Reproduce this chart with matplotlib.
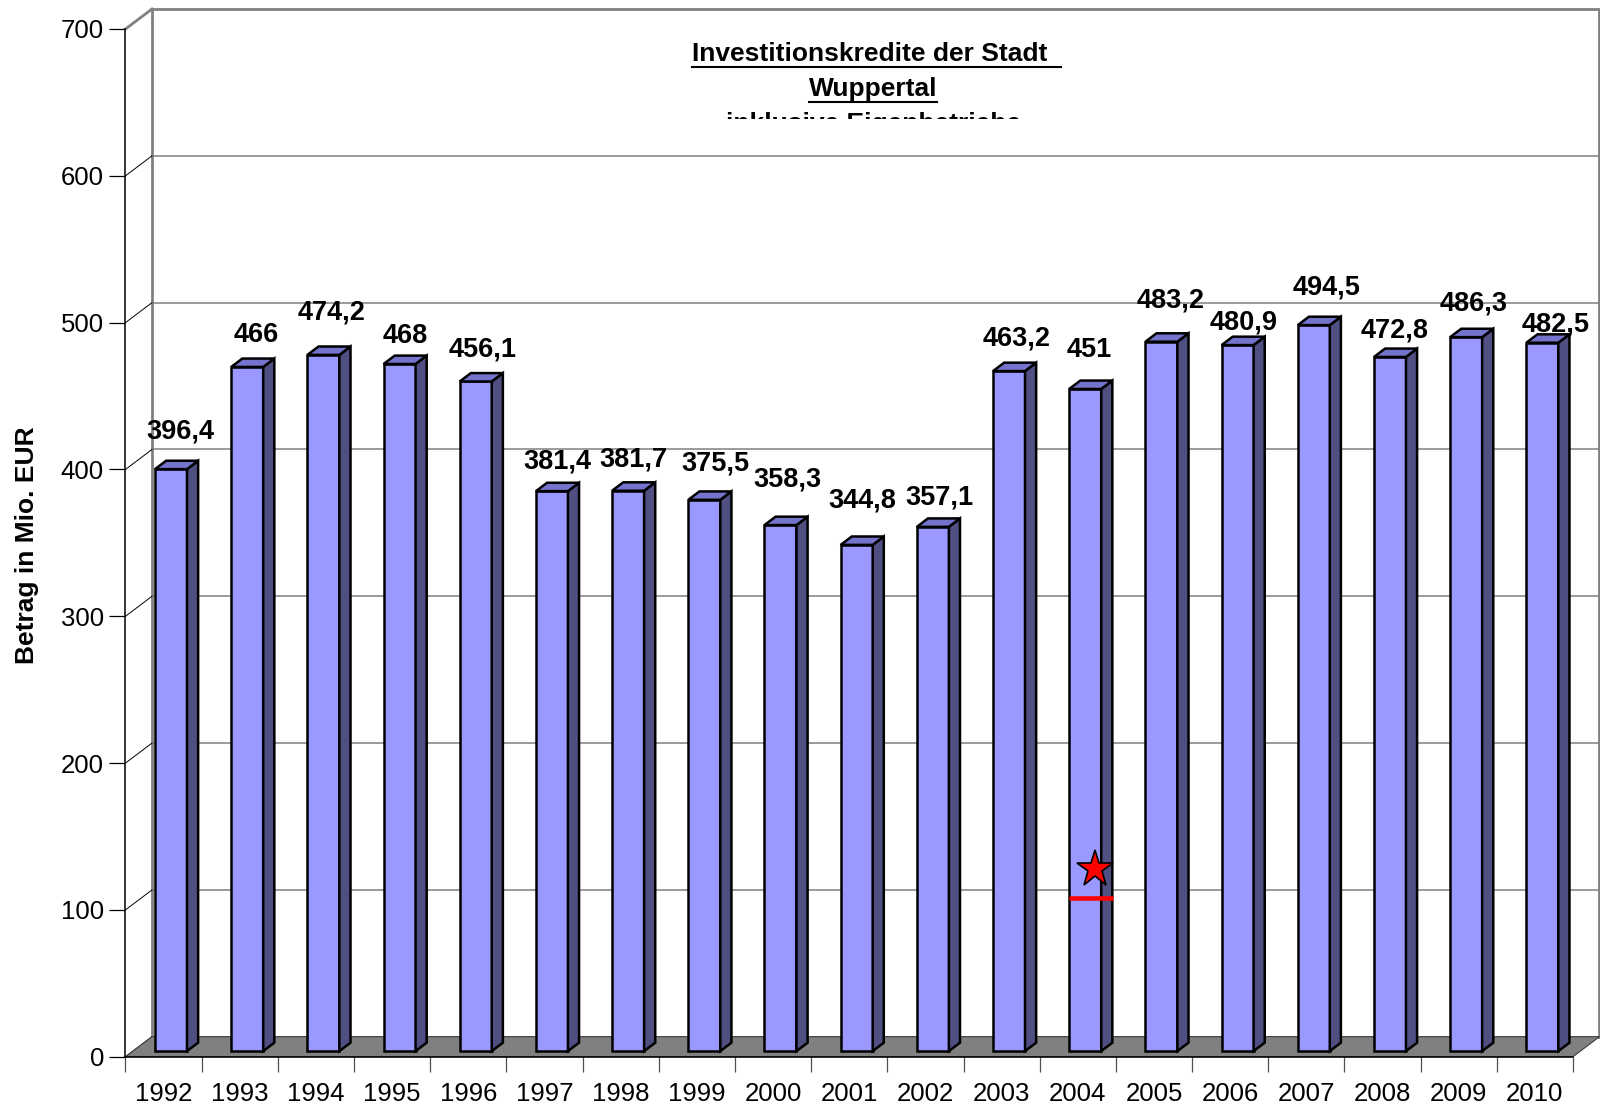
import matplotlib
matplotlib.use('Agg')
import matplotlib.pyplot as plt
from matplotlib.patches import Polygon, Rectangle
from matplotlib.lines import Line2D
from matplotlib.transforms import Bbox

plt.rcParams['font.family'] = ['Liberation Sans', 'DejaVu Sans']

# Daten: Investitionskredite in Mio. EUR
years = ['1992', '1993', '1994', '1995', '1996', '1997', '1998', '1999', '2000', '2001',
         '2002', '2003', '2004', '2005', '2006', '2007', '2008', '2009', '2010']
values = [396.4, 466, 474.2, 468, 456.1, 381.4, 381.7, 375.5, 358.3, 344.8,
          357.1, 463.2, 451, 483.2, 480.9, 494.5, 472.8, 486.3, 482.5]
yticks = [0, 100, 200, 300, 400, 500, 600, 700]
title_lines = ['Investitionskredite der Stadt ', 'Wuppertal', 'inklusive Eigenbetriebe']

# Excel-Beschriftungen wurden von Hand verschoben (Pixel, rechts / oben)
label_shift = [(9, 38), (9, 32), (8, 42), (6, 28), (7, 32), (5, 30), (5, 31), (11, 36),
               (7, 46), (6, 44), (7, 29), (8, 33), (4, 39), (9, 41), (6, 23), (13, 38),
               (5, 26), (7, 34), (13, 18)]

# Markierung bei 2004 (Stern + rote Linie)
star_xy = (12.73, 128)
red_line_x = (12.385, 12.963)
red_line_y = 108

W, H = 1600, 1111
fig = plt.figure(figsize=(W / 100, H / 100), dpi=100)
x_left, x_right, y_zero, y_top = 125.5, 1573, 1056.7, 29
ax = fig.add_axes([x_left / W, (H - y_zero) / H, (x_right - x_left) / W, (y_zero - y_top) / H])
n = len(values)
ax.set_xlim(0, n)
ax.set_ylim(0, 700)
ax.patch.set_visible(False)

# Tiefe der 3D-Darstellung in Datenkoordinaten
px_x = (x_right - x_left) / n
px_y = (y_zero - y_top) / 700
DX = 26.5 / px_x
DY = 20 / px_y

grey = '#808080'
# Rueckwand
ax.add_patch(Rectangle((DX, DY), n, 700, facecolor='white', edgecolor=grey, lw=2,
                       zorder=0.5, clip_on=False))
for v in yticks[1:-1]:
    ax.plot([DX, n + DX], [v + DY, v + DY], color=grey, lw=1.1, zorder=0.6, clip_on=False)
# Seitenwand
for v in yticks:
    if v == 700:
        ax.plot([0, DX], [v, v + DY], color=grey, lw=2, zorder=0.7, clip_on=False)
    else:
        ax.plot([0, DX], [v, v + DY], color='black', lw=0.7, zorder=0.7, clip_on=False)
# Boden
ax.add_patch(Polygon([(0, 0), (n, 0), (n + DX, DY), (DX, DY)], closed=True,
                     facecolor=grey, edgecolor='#404040', lw=0.8, zorder=1, clip_on=False))

# Saeulen
bw = 0.42
f = 0.28
d = 0.42
front_c, side_c, top_c = '#9999FF', '#4F4F82', '#7474CC'
for i, v in enumerate(values):
    x0 = i + 0.5 - bw / 2 + f * DX
    x1 = x0 + bw
    y0 = f * DY
    y1 = v + f * DY
    ddx, ddy = d * DX, d * DY
    kw = dict(edgecolor='black', lw=1.8, zorder=3, clip_on=False, joinstyle='miter')
    ax.add_patch(Polygon([(x0, y0), (x1, y0), (x1, y1), (x0, y1)], facecolor=front_c, **kw))
    ax.add_patch(Polygon([(x1, y0), (x1 + ddx, y0 + ddy), (x1 + ddx, y1 + ddy), (x1, y1)],
                         facecolor=side_c, **kw))
    ax.add_patch(Polygon([(x0, y1), (x1, y1), (x1 + ddx, y1 + ddy), (x0 + ddx, y1 + ddy)],
                         facecolor=top_c, **kw))
    lab = f"{v:g}".replace('.', ',')
    ax.annotate(lab, xy=(i + 0.5 + f * DX, y1), xytext=label_shift[i],
                textcoords='offset pixels', ha='center', va='center',
                fontsize=19.5, fontweight='bold', zorder=5, annotation_clip=False)

ax.plot(*star_xy, marker='*', ms=28, mfc='red', mec='black', mew=1.2, zorder=6, clip_on=False)
ax.plot(red_line_x, [red_line_y, red_line_y], color='red', lw=3.3,
        solid_capstyle='butt', zorder=6)

# Achsen
for s in ['top', 'right']:
    ax.spines[s].set_visible(False)
for s in ['left', 'bottom']:
    ax.spines[s].set_linewidth(1.1)
    ax.spines[s].set_zorder(4)
ax.set_yticks(yticks)
ax.set_yticklabels([str(t) for t in yticks])
ax.tick_params(axis='y', length=11.5, width=0.9, pad=4, labelsize=18.5)
ax.set_xticks(range(n + 1))
ax.set_xticklabels([])
ax.set_xticks([i + 0.5 for i in range(n)], minor=True)
ax.set_xticklabels(years, minor=True)
ax.tick_params(axis='x', which='major', length=11, width=0.9, color='#505050')
ax.tick_params(axis='x', which='minor', length=0, pad=18.5, labelsize=18.5)

fig.text(27 / W, 1 - 545 / H, 'Betrag in Mio. EUR', rotation=90, ha='center', va='center',
         fontsize=19, fontweight='bold')

# Titel, unterstrichen und oben abgeschnitten
clip = Bbox.from_extents(0, H - 119, W, H)
baselines = [60.7, 96, 131]
texts = []
for line, b in zip(title_lines, baselines):
    t = fig.text(873 / W, 1 - b / H, line, ha='center', va='baseline',
                 fontsize=19, fontweight='bold')
    t.set_clip_box(clip)
    t.set_clip_on(True)
    texts.append((t, b, line.endswith(' ')))
r = fig.canvas.get_renderer()
for t, b, trailing in texts:
    bb = t.get_window_extent(r)
    x1 = bb.x1 + (7 if trailing else 0)
    yl = H - b - 6
    ln = Line2D([bb.x0, x1], [yl, yl], transform=None, color='black', lw=1.5)
    ln.set_clip_box(clip)
    ln.set_clip_on(True)
    fig.add_artist(ln)

fig.savefig('out.png', dpi=100)
